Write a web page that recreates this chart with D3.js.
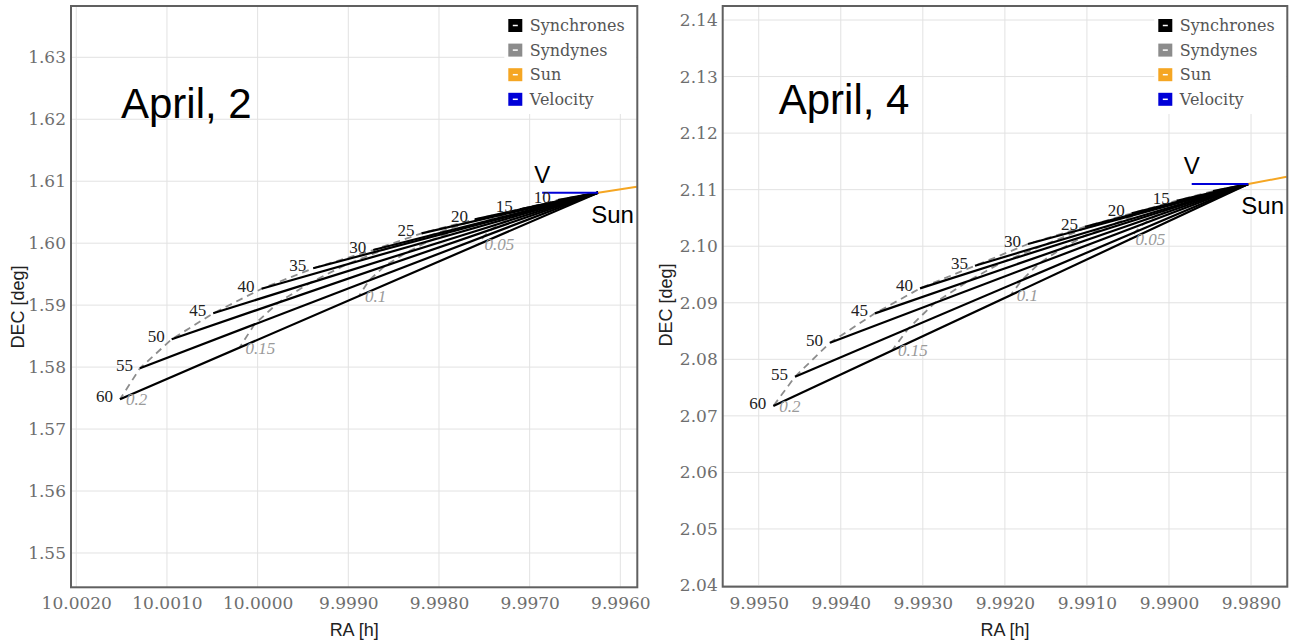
<!DOCTYPE html>
<html>
<head>
<meta charset="utf-8">
<script src="https://cdn.jsdelivr.net/npm/d3@7"></script>
<style>
  body { margin: 0; background: #fff; }
</style>
</head>
<body>
<div id="chart"></div>
<script>
// synchrone ages (days) and syndyne beta values
var ages = [10, 15, 20, 25, 30, 35, 40, 45, 50, 55, 60];
var betaLabels = ['0.05', '0.1', '0.15', '0.2'];

var legendNames = ['Synchrones', 'Syndynes', 'Sun', 'Velocity'];
var legendColors = ['#000000', '#8c8c8c', '#f5a623', '#0000d8'];

// ---- April 2 ----
var apr2RaTicks = [10.002, 10.001, 10.000, 9.999, 9.998, 9.997, 9.996];
var apr2DecTicks = [1.55, 1.56, 1.57, 1.58, 1.59, 1.60, 1.61, 1.62, 1.63];
var apr2Nucleus = [9.996245, 1.60815];
var apr2Velocity = [9.996862, 1.60815];
var apr2Sun = [9.995818, 1.60912];
var apr2EndRA = [9.996689, 9.997108, 9.997604, 9.998192, 9.998725, 9.999387, 9.999956, 10.000490, 10.000948, 10.001298, 10.001518];
var apr2EndDEC = [1.60697, 1.60547, 1.60385, 1.60159, 1.59890, 1.59595, 1.59265, 1.58868, 1.58449, 1.57981, 1.57480];
var apr2SyndyneRA = [
  [9.996356, 9.996461, 9.996585, 9.996732, 9.996865, 9.997031, 9.997173, 9.997306, 9.997421, 9.997508, 9.997563],
  [9.996467, 9.996677, 9.996925, 9.997219, 9.997485, 9.997816, 9.998101, 9.998368, 9.998597, 9.998772, 9.998882],
  [9.996578, 9.996892, 9.997264, 9.997705, 9.998105, 9.998602, 9.999028, 9.999429, 9.999772, 10.000035, 10.000200],
  apr2EndRA
];
var apr2SyndyneDEC = [
  [1.60786, 1.60748, 1.60708, 1.60651, 1.60584, 1.60510, 1.60428, 1.60328, 1.60224, 1.60107, 1.59981],
  [1.60756, 1.60681, 1.60600, 1.60487, 1.60353, 1.60205, 1.60040, 1.59842, 1.59632, 1.59398, 1.59148],
  [1.60727, 1.60614, 1.60493, 1.60323, 1.60121, 1.59900, 1.59653, 1.59355, 1.59041, 1.58690, 1.58314],
  apr2EndDEC
];

// ---- April 4 ----
var apr4RaTicks = [9.995, 9.994, 9.993, 9.992, 9.991, 9.990, 9.989];
var apr4DecTicks = [2.04, 2.05, 2.06, 2.07, 2.08, 2.09, 2.10, 2.11, 2.12, 2.13, 2.14];
var apr4Nucleus = [9.989033, 2.11100];
var apr4Velocity = [9.989723, 2.11100];
var apr4Sun = [9.988565, 2.11229];
var apr4EndRA = [9.989463, 9.989906, 9.990454, 9.991023, 9.991718, 9.992364, 9.993034, 9.993583, 9.994131, 9.994558, 9.994822];
var apr4EndDEC = [2.10976, 2.10805, 2.10582, 2.10345, 2.10039, 2.09655, 2.09255, 2.08813, 2.08294, 2.07692, 2.07174];
var apr4SyndyneRA = [
  [9.989141, 9.989251, 9.989388, 9.989531, 9.989704, 9.989866, 9.990033, 9.990171, 9.990308, 9.990414, 9.990480],
  [9.989248, 9.989470, 9.989744, 9.990028, 9.990376, 9.990699, 9.991034, 9.991308, 9.991582, 9.991796, 9.991928],
  [9.989356, 9.989688, 9.990099, 9.990526, 9.991047, 9.991531, 9.992034, 9.992446, 9.992857, 9.993177, 9.993375],
  apr4EndRA
];
var apr4SyndyneDEC = [
  [2.11069, 2.11026, 2.10971, 2.10911, 2.10835, 2.10739, 2.10639, 2.10528, 2.10399, 2.10248, 2.10119],
  [2.11038, 2.10953, 2.10841, 2.10723, 2.10570, 2.10378, 2.10178, 2.09957, 2.09697, 2.09396, 2.09137],
  [2.11007, 2.10879, 2.10712, 2.10534, 2.10304, 2.10016, 2.09716, 2.09385, 2.08996, 2.08544, 2.08156],
  apr4EndDEC
];

var width = 1297,
  height = 644;

var svg = d3.select('#chart')
  .append('svg')
  .attr('width', width)
  .attr('height', height)
  .style('font-family', 'DejaVu Serif, serif');

var panels = [
  {
    id: 'apr2', title: 'April, 2', left: 71, right: 637.3, top: 6, bottom: 587.3,
    raDomain: [10.002058, 9.995813], decDomain: [1.54446, 1.63828],
    raTicks: apr2RaTicks, decTicks: apr2DecTicks,
    nucleus: apr2Nucleus, velocity: apr2Velocity, sun: apr2Sun,
    endRA: apr2EndRA, endDEC: apr2EndDEC,
    synRA: apr2SyndyneRA, synDEC: apr2SyndyneDEC,
    labelAges: ages, titleDx: 50, titleY: 118, yTitleX: 24, yTitleY: 307
  },
  {
    id: 'apr4', title: 'April, 4', left: 722.7, right: 1287.3, top: 6, bottom: 586.7,
    raDomain: [9.995439, 9.988558], decDomain: [2.03979, 2.14248],
    raTicks: apr4RaTicks, decTicks: apr4DecTicks,
    nucleus: apr4Nucleus, velocity: apr4Velocity, sun: apr4Sun,
    endRA: apr4EndRA, endDEC: apr4EndDEC,
    synRA: apr4SyndyneRA, synDEC: apr4SyndyneDEC,
    labelAges: ages.slice(1), titleDx: 56, titleY: 114, yTitleX: 672, yTitleY: 305
  }
];

panels.forEach(drawPanel);

function drawPanel(p) {
  var x = d3.scaleLinear().domain(p.raDomain).range([p.left, p.right]);
  var y = d3.scaleLinear().domain(p.decDomain).range([p.bottom, p.top]);
  var g = svg.append('g');

  g.append('clipPath')
    .attr('id', 'clip-' + p.id)
    .append('rect')
    .attr('x', p.left).attr('y', p.top)
    .attr('width', p.right - p.left).attr('height', p.bottom - p.top);

  // grid
  g.selectAll('.vgrid')
    .data(p.raTicks)
    .enter().append('line')
    .attr('x1', function (d) { return x(d); })
    .attr('x2', function (d) { return x(d); })
    .attr('y1', p.top).attr('y2', p.bottom)
    .attr('stroke', '#e2e2e2').attr('stroke-width', 1);
  g.selectAll('.hgrid')
    .data(p.decTicks)
    .enter().append('line')
    .attr('x1', p.left).attr('x2', p.right)
    .attr('y1', function (d) { return y(d); })
    .attr('y2', function (d) { return y(d); })
    .attr('stroke', '#e2e2e2').attr('stroke-width', 1);

  // axes labels
  var xAxis = g.append('g')
    .attr('transform', 'translate(0,' + p.bottom + ')')
    .call(d3.axisBottom(x).tickValues(p.raTicks).tickFormat(d3.format('.4f')).tickSize(0).tickPadding(10));
  var yAxis = g.append('g')
    .attr('transform', 'translate(' + p.left + ',0)')
    .call(d3.axisLeft(y).tickValues(p.decTicks).tickFormat(d3.format('.2f')).tickSize(0).tickPadding(5));
  [xAxis, yAxis].forEach(function (a) {
    a.select('.domain').remove();
    a.selectAll('text')
      .style('font-family', 'DejaVu Serif, serif')
      .style('font-size', '17px')
      .attr('fill', '#6e6e6e');
  });

  g.append('text')
    .attr('x', (p.left + p.right) / 2)
    .attr('y', 636)
    .attr('text-anchor', 'middle')
    .style('font-family', 'Liberation Sans, Arial, sans-serif')
    .style('font-size', '18px')
    .attr('fill', '#222')
    .text('RA [h]');
  g.append('text')
    .attr('transform', 'translate(' + p.yTitleX + ',' + p.yTitleY + ') rotate(-90)')
    .attr('text-anchor', 'middle')
    .style('font-family', 'Liberation Sans, Arial, sans-serif')
    .style('font-size', '18px')
    .attr('fill', '#222')
    .text('DEC [deg]');

  var plot = g.append('g').attr('clip-path', 'url(#clip-' + p.id + ')');
  var line = d3.line()
    .x(function (d) { return x(d[0]); })
    .y(function (d) { return y(d[1]); });

  // syndynes
  p.synRA.forEach(function (ras, i) {
    var pts = [p.nucleus].concat(ras.map(function (r, j) { return [r, p.synDEC[i][j]]; }));
    plot.append('path')
      .attr('d', line(pts))
      .attr('fill', 'none')
      .attr('stroke', '#8c8c8c')
      .attr('stroke-width', 1.8)
      .attr('stroke-dasharray', '7,5');
  });

  // synchrones
  ages.forEach(function (a, i) {
    plot.append('path')
      .attr('d', line([p.nucleus, [p.endRA[i], p.endDEC[i]]]))
      .attr('fill', 'none')
      .attr('stroke', '#000')
      .attr('stroke-width', 2.2);
  });

  // sun direction and velocity
  plot.append('path')
    .attr('d', line([p.nucleus, p.sun]))
    .attr('fill', 'none')
    .attr('stroke', legendColors[2])
    .attr('stroke-width', 2);
  plot.append('path')
    .attr('d', line([p.nucleus, p.velocity]))
    .attr('fill', 'none')
    .attr('stroke', legendColors[3])
    .attr('stroke-width', 2);

  // synchrone labels
  ages.forEach(function (a, i) {
    if (p.labelAges.indexOf(a) < 0) return;
    g.append('text')
      .attr('x', x(p.endRA[i]) - 7)
      .attr('y', y(p.endDEC[i]) + 3)
      .attr('text-anchor', 'end')
      .style('font-family', 'Liberation Serif, Times New Roman, serif')
      .style('font-size', '17px')
      .attr('fill', '#222')
      .text(a);
  });

  // syndyne labels at the 60 day end
  betaLabels.forEach(function (b, i) {
    var last = p.synRA[i].length - 1;
    g.append('text')
      .attr('x', x(p.synRA[i][last]) + 6)
      .attr('y', y(p.synDEC[i][last]) + 6)
      .style('font-family', 'Liberation Serif, Times New Roman, serif')
      .style('font-style', 'italic')
      .style('font-size', '17px')
      .attr('fill', '#9a9a9a')
      .text(b);
  });

  // V and Sun annotations
  g.append('text')
    .attr('x', x(p.velocity[0]))
    .attr('y', y(p.velocity[1]) - 10)
    .attr('text-anchor', 'middle')
    .style('font-family', 'Liberation Sans, Arial, sans-serif')
    .style('font-size', '24px')
    .attr('fill', '#000')
    .text('V');
  g.append('text')
    .attr('x', x(p.nucleus[0]) - 7)
    .attr('y', y(p.nucleus[1]) + 30)
    .style('font-family', 'Liberation Sans, Arial, sans-serif')
    .style('font-size', '24px')
    .attr('fill', '#000')
    .text('Sun');

  // title
  g.append('text')
    .attr('x', p.left + p.titleDx)
    .attr('y', p.titleY)
    .style('font-family', 'Liberation Sans, Arial, sans-serif')
    .style('font-size', '42px')
    .attr('fill', '#000')
    .text(p.title);

  // legend
  var lx = p.right - 129;
  g.append('rect')
    .attr('x', lx - 4).attr('y', p.top + 1)
    .attr('width', p.right - lx + 3).attr('height', 107)
    .attr('fill', '#fff');
  var items = g.selectAll('.legend-item')
    .data(legendNames)
    .enter().append('g')
    .attr('transform', function (d, i) { return 'translate(' + lx + ',' + (25.5 + i * 24.6) + ')'; });
  items.append('rect')
    .attr('x', 0).attr('y', -6.5)
    .attr('width', 14).attr('height', 13)
    .attr('fill', function (d, i) { return legendColors[i]; });
  items.append('line')
    .attr('x1', 4.5).attr('x2', 9.5)
    .attr('y1', 0).attr('y2', 0)
    .attr('stroke', '#fff').attr('stroke-width', 1.5);
  items.append('text')
    .attr('x', 21.5)
    .attr('y', 5.5)
    .style('font-family', 'DejaVu Serif, serif')
    .style('font-size', '16px')
    .attr('fill', '#555')
    .text(function (d) { return d; });

  // frame
  g.append('rect')
    .attr('x', p.left).attr('y', p.top)
    .attr('width', p.right - p.left).attr('height', p.bottom - p.top)
    .attr('fill', 'none')
    .attr('stroke', '#606060')
    .attr('stroke-width', 2);
}
</script>
</body>
</html>
